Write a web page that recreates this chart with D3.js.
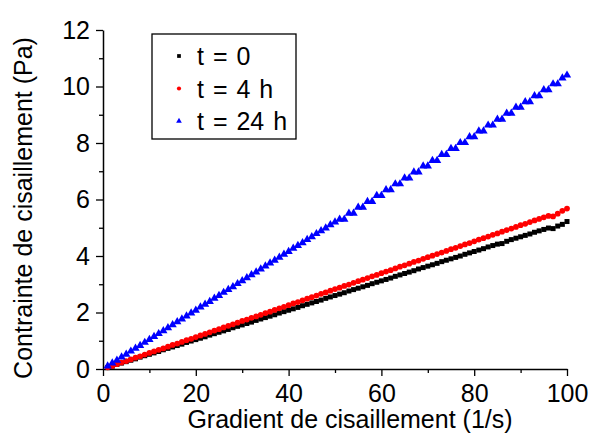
<!DOCTYPE html>
<html>
<head>
<meta charset="utf-8">
<script src="https://cdn.jsdelivr.net/npm/d3@7"></script>
<style>
	body { margin: 0; background: #fff; }
	svg { display: block; font-family: 'Liberation Sans', Arial, sans-serif; }
</style>
</head>
<body>
<div id="chart"></div>
<script>
// ---------------------------- DATA ----------------------------
const shearRate = d3.range(1, 101); // 1 .. 100 1/s

const stressT0 = [
	0.05, 0.10, 0.16, 0.21, 0.26, 0.31, 0.36, 0.42, 0.47, 0.52,
	0.57, 0.62, 0.68, 0.73, 0.78, 0.83, 0.88, 0.94, 0.99, 1.04,
	1.09, 1.14, 1.20, 1.25, 1.30, 1.35, 1.40, 1.46, 1.51, 1.56,
	1.61, 1.66, 1.72, 1.77, 1.82, 1.87, 1.92, 1.98, 2.03, 2.08,
	2.13, 2.18, 2.24, 2.29, 2.34, 2.39, 2.44, 2.50, 2.55, 2.60,
	2.65, 2.70, 2.76, 2.81, 2.86, 2.91, 2.96, 3.02, 3.07, 3.12,
	3.17, 3.22, 3.28, 3.33, 3.38, 3.43, 3.48, 3.54, 3.59, 3.64,
	3.69, 3.74, 3.80, 3.85, 3.90, 3.95, 4.00, 4.06, 4.11, 4.16,
	4.21, 4.26, 4.32, 4.37, 4.42, 4.44, 4.52, 4.58, 4.63, 4.68,
	4.73, 4.78, 4.84, 4.89, 4.94, 4.99, 4.97, 5.06, 5.12, 5.22
];

const stressT4 = [
	0.06, 0.11, 0.17, 0.23, 0.28, 0.34, 0.40, 0.45, 0.51, 0.57,
	0.62, 0.68, 0.73, 0.79, 0.85, 0.90, 0.96, 1.02, 1.07, 1.13,
	1.19, 1.24, 1.30, 1.36, 1.41, 1.47, 1.53, 1.58, 1.64, 1.70,
	1.75, 1.81, 1.86, 1.92, 1.98, 2.03, 2.09, 2.15, 2.20, 2.26,
	2.32, 2.37, 2.43, 2.49, 2.54, 2.60, 2.66, 2.71, 2.77, 2.83,
	2.88, 2.94, 2.99, 3.05, 3.11, 3.16, 3.22, 3.28, 3.33, 3.39,
	3.45, 3.50, 3.56, 3.62, 3.67, 3.73, 3.79, 3.84, 3.90, 3.96,
	4.01, 4.07, 4.12, 4.18, 4.24, 4.29, 4.35, 4.41, 4.46, 4.52,
	4.58, 4.63, 4.69, 4.75, 4.80, 4.86, 4.92, 4.97, 5.03, 5.09,
	5.14, 5.20, 5.26, 5.31, 5.37, 5.42, 5.40, 5.50, 5.60, 5.68
];

const stressT24 = [
	0.10, 0.21, 0.31, 0.42, 0.52, 0.63, 0.73, 0.83, 0.94, 1.04,
	1.15, 1.25, 1.35, 1.46, 1.56, 1.67, 1.77, 1.87, 1.98, 2.08,
	2.19, 2.29, 2.39, 2.50, 2.60, 2.71, 2.81, 2.91, 3.02, 3.12,
	3.23, 3.33, 3.43, 3.54, 3.64, 3.75, 3.85, 3.95, 4.06, 4.16,
	4.27, 4.37, 4.47, 4.58, 4.68, 4.79, 4.89, 4.99, 5.10, 5.20,
	5.30, 5.30, 5.51, 5.51, 5.72, 5.72, 5.93, 5.93, 6.14, 6.14,
	6.34, 6.34, 6.55, 6.55, 6.76, 6.76, 6.97, 6.97, 7.18, 7.18,
	7.38, 7.38, 7.59, 7.59, 7.80, 7.80, 8.01, 8.01, 8.22, 8.22,
	8.42, 8.42, 8.63, 8.63, 8.84, 8.84, 9.05, 9.05, 9.26, 9.26,
	9.46, 9.46, 9.67, 9.67, 9.88, 9.88, 10.09, 10.09, 10.30, 10.40
];

const seriesNames = ['t = 0', 't = 4 h', 't = 24 h'];
const seriesColors = ['#000000', '#ff0000', '#0000ff'];
const seriesShapes = [d3.symbolSquare, d3.symbolCircle, d3.symbolTriangle];
const seriesSizes = [25, 26, 30];

const xTicks = [0, 20, 40, 60, 80, 100];
const yTicks = [0, 2, 4, 6, 8, 10, 12];

// ---------------------------- CHART ----------------------------
const width = 591, height = 441;
const margin = { top: 30, right: 24, bottom: 72, left: 103 };
const fontSize = 25;

const svg = d3.select('#chart').append('svg')
	.attr('width', width)
	.attr('height', height);

const x = d3.scaleLinear().domain([0, 100]).range([margin.left, width - margin.right]);
const y = d3.scaleLinear().domain([0, 12]).range([height - margin.bottom, margin.top]);

const styleText = (g) => g.selectAll('text')
	.attr('font-size', fontSize)
	.attr('font-family', 'Liberation Sans, Arial, sans-serif')
	.attr('fill', '#000');

// minor ticks
svg.append('g')
	.attr('transform', `translate(0,${y(0)})`)
	.call(d3.axisBottom(x).tickValues(d3.range(10, 100, 20)).tickSize(4).tickFormat(''))
	.call((g) => g.select('.domain').remove())
	.call((g) => g.selectAll('line').attr('stroke-width', 1.3));
svg.append('g')
	.attr('transform', `translate(${x(0)},0)`)
	.call(d3.axisLeft(y).tickValues(d3.range(1, 12, 2)).tickSize(4).tickFormat(''))
	.call((g) => g.select('.domain').remove())
	.call((g) => g.selectAll('line').attr('stroke-width', 1.3));

// major ticks
svg.append('g')
	.attr('transform', `translate(0,${y(0)})`)
	.call(d3.axisBottom(x).tickValues(xTicks).tickSize(7).tickSizeOuter(0).tickPadding(8))
	.call((g) => g.select('.domain').attr('stroke-width', 1.5))
	.call((g) => g.selectAll('line').attr('stroke-width', 1.3))
	.call(styleText);

svg.append('g')
	.attr('transform', `translate(${x(0)},0)`)
	.call(d3.axisLeft(y).tickValues(yTicks).tickSize(7).tickSizeOuter(0).tickPadding(6))
	.call((g) => g.select('.domain').attr('stroke-width', 1.5))
	.call((g) => g.selectAll('line').attr('stroke-width', 1.3))
	.call(styleText);

// axis titles
svg.append('text')
	.attr('x', 350)
	.attr('y', 428)
	.attr('text-anchor', 'middle')
	.attr('font-size', fontSize)
	.text('Gradient de cisaillement (1/s)');

svg.append('text')
	.attr('transform', `translate(32,208) rotate(-90)`)
	.attr('text-anchor', 'middle')
	.attr('font-size', fontSize)
	.text('Contrainte de cisaillement (Pa)');

// data points
const allSeries = [stressT0, stressT4, stressT24];
allSeries.forEach((values, k) => {
	const sym = d3.symbol().type(seriesShapes[k]).size(seriesSizes[k]);
	svg.append('g')
		.attr('fill', seriesColors[k])
		.selectAll('path')
		.data(values)
		.join('path')
		.attr('d', sym)
		.attr('transform', (d, i) => `translate(${x(shearRate[i])},${y(d)})`);
});

// legend
const legend = svg.append('g').attr('transform', 'translate(152,34)');
legend.append('rect')
	.attr('width', 144)
	.attr('height', 105)
	.attr('fill', '#fff')
	.attr('stroke', '#000')
	.attr('stroke-width', 1.3);

seriesNames.forEach((name, k) => {
	const row = legend.append('g').attr('transform', `translate(0,${31 + k * 32.5})`);
	row.append('path')
		.attr('d', d3.symbol().type(seriesShapes[k]).size(14)())
		.attr('transform', 'translate(27,-9)')
		.attr('fill', seriesColors[k]);
	row.append('text')
		.attr('x', 45)
		.attr('y', 0)
		.attr('font-size', fontSize)
		.attr('word-spacing', 2)
		.text(name);
});
</script>
</body>
</html>
